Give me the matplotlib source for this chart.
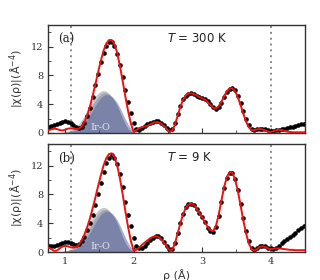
import numpy as np
import matplotlib
matplotlib.use("Agg")
import matplotlib.pyplot as plt
from matplotlib.ticker import MultipleLocator

# ---------------- data ----------------
rho = np.round(np.arange(0.76, 4.5201, 0.04), 2)

data_300K = [0.8, 0.95, 1.1, 1.25, 1.4, 1.55, 1.6, 1.55, 1.4, 1.1,
             0.85, 0.75, 0.9, 1.4, 2.3, 3.5, 5.0, 6.6, 8.2, 9.8,
             11.1, 12.1, 12.6, 12.6, 12.1, 11.0, 9.5, 7.8, 6.0, 4.3,
             2.8, 1.4, 0.5, 0.4, 0.7, 1.0, 1.2, 1.4, 1.5, 1.6,
             1.6, 1.4, 1.1, 0.7, 0.4, 0.6, 1.4, 2.6, 3.8, 4.7,
             5.2, 5.4, 5.5, 5.4, 5.2, 5.0, 4.9, 4.7, 4.4, 4.0,
             3.6, 3.4, 3.6, 4.2, 5.0, 5.7, 6.1, 6.2, 5.9, 5.2,
             4.2, 3.1, 2.0, 1.1, 0.6, 0.4, 0.5, 0.6, 0.6, 0.5,
             0.4, 0.3, 0.3, 0.35, 0.4, 0.5, 0.6, 0.7, 0.8, 0.9,
             1.0, 1.1, 1.2, 1.3, 1.4]

fit_300K = [0.4, 0.5, 0.6, 0.55, 0.4, 0.35, 0.45, 0.6, 0.65, 0.6,
            0.55, 0.6, 0.9, 1.5, 2.4, 3.6, 5.1, 6.7, 8.4, 10.0,
            11.4, 12.4, 12.9, 12.9, 12.3, 11.1, 9.3, 7.2, 5.0, 3.0,
            1.3, 0.15, 0.4, 0.7, 0.8, 0.9, 1.0, 1.2, 1.4, 1.5,
            1.5, 1.3, 1.0, 0.6, 0.2, 0.3, 1.1, 2.3, 3.6, 4.6,
            5.2, 5.5, 5.5, 5.4, 5.2, 5.0, 4.8, 4.6, 4.3, 3.9,
            3.5, 3.4, 3.7, 4.3, 5.1, 5.8, 6.2, 6.2, 5.8, 5.0,
            3.9, 2.7, 1.6, 0.8, 0.4, 0.4, 0.5, 0.55, 0.5, 0.35,
            0.2, 0.15, 0.25, 0.4, 0.45, 0.4, 0.3, 0.2, 0.15, 0.1,
            0.1, 0.1, 0.1, 0.1, 0.1]

data_9K = [0.8, 0.85, 0.9, 1.0, 1.15, 1.3, 1.4, 1.4, 1.3, 1.1,
           1.0, 1.1, 1.5, 2.1, 3.0, 4.0, 5.2, 6.5, 8.0, 9.6,
           11.1, 12.3, 13.1, 13.4, 13.1, 12.2, 10.8, 9.0, 7.0, 5.2,
           3.6, 2.0, 0.9, 0.5, 0.6, 0.9, 1.3, 1.7, 2.0, 2.2,
           2.2, 1.9, 1.4, 0.9, 0.4, 0.4, 1.2, 2.6, 4.0, 5.3,
           6.2, 6.7, 6.7, 6.5, 6.0, 5.4, 4.8, 4.1, 3.4, 2.9,
           2.8, 3.5, 5.0, 7.0, 8.9, 10.3, 11.0, 10.9, 10.1, 8.6,
           6.7, 4.7, 2.9, 1.5, 0.6, 0.3, 0.5, 0.8, 0.9, 0.8,
           0.6, 0.5, 0.45, 0.6, 0.9, 1.2, 1.5, 1.8, 2.1, 2.4,
           2.7, 3.0, 3.3, 3.6, 3.8]

fit_9K = [0.6, 0.4, 0.15, 0.2, 0.5, 0.75, 0.85, 0.8, 0.65, 0.6,
          0.7, 1.0, 1.6, 2.4, 3.4, 4.6, 6.0, 7.5, 9.1, 10.6,
          12.0, 13.0, 13.6, 13.7, 13.2, 12.0, 10.2, 8.0, 5.6, 3.4,
          1.5, 0.2, 0.3, 0.6, 1.0, 1.3, 1.6, 1.9, 2.1, 2.2,
          2.1, 1.8, 1.3, 0.8, 0.3, 0.3, 1.1, 2.5, 3.9, 5.2,
          6.1, 6.6, 6.7, 6.5, 6.0, 5.4, 4.8, 4.1, 3.5, 3.0,
          2.9, 3.6, 5.1, 7.1, 9.0, 10.4, 11.1, 11.0, 10.1, 8.5,
          6.5, 4.4, 2.6, 1.2, 0.4, 0.2, 0.4, 0.7, 0.8, 0.7,
          0.5, 0.4, 0.45, 0.5, 0.5, 0.45, 0.4, 0.35, 0.3, 0.3,
          0.25, 0.25, 0.25, 0.25, 0.25]

comp_rho = np.round(np.arange(0.92, 2.1201, 0.04), 2)

grayA_300K = [0.05, 0.1, 0.15, 0.25, 0.4, 0.6, 0.9, 1.3, 1.8, 2.4, 3.1, 3.8, 4.5, 5.1, 5.5, 5.8,
              5.9, 5.8, 5.5, 5.0, 4.3, 3.5, 2.7, 1.9, 1.2, 0.7, 0.35, 0.15, 0.05, 0.02, 0.0]
grayB_300K = [0.03, 0.06, 0.1, 0.18, 0.3, 0.45, 0.7, 1.0, 1.4, 1.9, 2.5, 3.2, 3.9, 4.5, 5.0, 5.4,
              5.6, 5.6, 5.4, 5.0, 4.4, 3.7, 2.9, 2.1, 1.4, 0.8, 0.4, 0.15, 0.05, 0.02, 0.0]
lblue_300K = [0.02, 0.04, 0.07, 0.12, 0.2, 0.3, 0.45, 0.65, 0.95, 1.3, 1.8, 2.4, 3.0, 3.6, 4.2, 4.6,
              5.0, 5.2, 5.2, 5.1, 4.7, 4.2, 3.5, 2.7, 1.9, 1.2, 0.6, 0.25, 0.1, 0.05, 0.0]
blue_300K = [0.02, 0.04, 0.07, 0.12, 0.2, 0.3, 0.45, 0.7, 1.0, 1.4, 1.9, 2.5, 3.1, 3.8, 4.4, 4.9,
             5.2, 5.35, 5.3, 5.0, 4.5, 3.8, 2.9, 2.0, 1.2, 0.6, 0.25, 0.1, 0.03, 0.0, 0.0]

grayA_9K = [0.05, 0.1, 0.16, 0.26, 0.42, 0.63, 0.95, 1.37, 1.9, 2.5, 3.25, 4.0, 4.7, 5.35, 5.8, 6.1,
            6.2, 6.1, 5.8, 5.25, 4.5, 3.7, 2.85, 2.0, 1.25, 0.75, 0.37, 0.16, 0.05, 0.02, 0.0]
grayB_9K = [0.03, 0.06, 0.1, 0.19, 0.32, 0.48, 0.74, 1.05, 1.5, 2.0, 2.65, 3.4, 4.1, 4.75, 5.3, 5.7,
            5.9, 5.9, 5.7, 5.3, 4.65, 3.9, 3.05, 2.2, 1.5, 0.85, 0.42, 0.16, 0.05, 0.02, 0.0]
lblue_9K = [0.02, 0.04, 0.07, 0.13, 0.21, 0.32, 0.48, 0.69, 1.0, 1.4, 1.9, 2.55, 3.2, 3.8, 4.45, 4.9,
            5.3, 5.5, 5.5, 5.4, 5.0, 4.45, 3.7, 2.85, 2.0, 1.25, 0.65, 0.27, 0.1, 0.05, 0.0]
blue_9K = [0.02, 0.04, 0.07, 0.13, 0.21, 0.32, 0.48, 0.74, 1.05, 1.5, 2.0, 2.65, 3.3, 4.0, 4.65, 5.2,
           5.5, 5.7, 5.6, 5.3, 4.75, 4.0, 3.05, 2.1, 1.25, 0.65, 0.27, 0.1, 0.03, 0.0, 0.0]

window = [1.09, 4.0]
panel_labels = ["(a)", "(b)"]
temps = ["300", "9"]
yticks = [0, 4, 8, 12]
xticks = [1, 2, 3, 4]

# ---------------- figure ----------------
fig = plt.figure(figsize=(3.2, 2.8), dpi=100)
ax_a = fig.add_axes([0.15, 0.525, 0.803, 0.386])
ax_b = fig.add_axes([0.15, 0.100, 0.803, 0.386])

panels = [
    (ax_a, data_300K, fit_300K, grayA_300K, grayB_300K, lblue_300K, blue_300K),
    (ax_b, data_9K, fit_9K, grayA_9K, grayB_9K, lblue_9K, blue_9K),
]

serif = "DejaVu Serif"
for i, (ax, dat, fit, ga, gb, lb, bl) in enumerate(panels):
    ax.fill_between(comp_rho, 0, ga, color="#c6c7cc", lw=0, zorder=1)
    ax.fill_between(comp_rho, 0, gb, color="#a3a6b6", lw=0, zorder=1.1)
    ax.fill_between(comp_rho, 0, lb, color="#aab0cc", lw=0, zorder=1.2)
    ax.fill_between(comp_rho, 0, bl, color="#7b83a9", lw=0, zorder=1.3)
    ax.text(1.51, 0.15, "Ir-O", color="#e2e2ec", fontsize=7, family=serif,
            ha="center", va="bottom", zorder=1.5)
    for w in window:
        ax.axvline(w, color="#8a8a8a", ls=(0, (1, 2)), lw=1.4, zorder=1.6)
    ax.plot(rho, dat, "o", color="black", ms=3.3, mew=0, zorder=2)
    ax.plot(rho, fit, "-", color="#ee1111", lw=1.4, zorder=3)

    ax.set_xlim(0.75, 4.5)
    ax.set_ylim(0, 15)
    ax.set_yticks(yticks)
    ax.set_xticks(xticks)
    ax.xaxis.set_minor_locator(MultipleLocator(0.5))
    ax.yaxis.set_minor_locator(MultipleLocator(2))
    ax.tick_params(which="both", direction="in", colors="#333333",
                   labelsize=7, labelcolor="#333333")
    ax.tick_params(which="major", length=3.5, width=0.8)
    ax.tick_params(which="minor", length=2, width=0.6)
    for lab in ax.get_xticklabels() + ax.get_yticklabels():
        lab.set_family(serif)
    for s in ax.spines.values():
        s.set_color("#333333")
        s.set_linewidth(1.0)
    ax.set_ylabel("|χ(ρ)|(Å$^{-4}$)", fontsize=8, color="#333333", labelpad=3)
    ax.text(0.04, 0.93, panel_labels[i], transform=ax.transAxes, fontsize=8.5,
            family=serif, ha="left", va="top", color="#222222")
    ax.text(0.465, 0.93, "$T$ = " + temps[i] + " K", transform=ax.transAxes,
            fontsize=8.5, ha="left", va="top", color="#222222")

ax_a.tick_params(labelbottom=False)
ax_b.set_xlabel("ρ (Å)", fontsize=8, color="#333333", labelpad=2)

fig.savefig("out.png", dpi=100)
